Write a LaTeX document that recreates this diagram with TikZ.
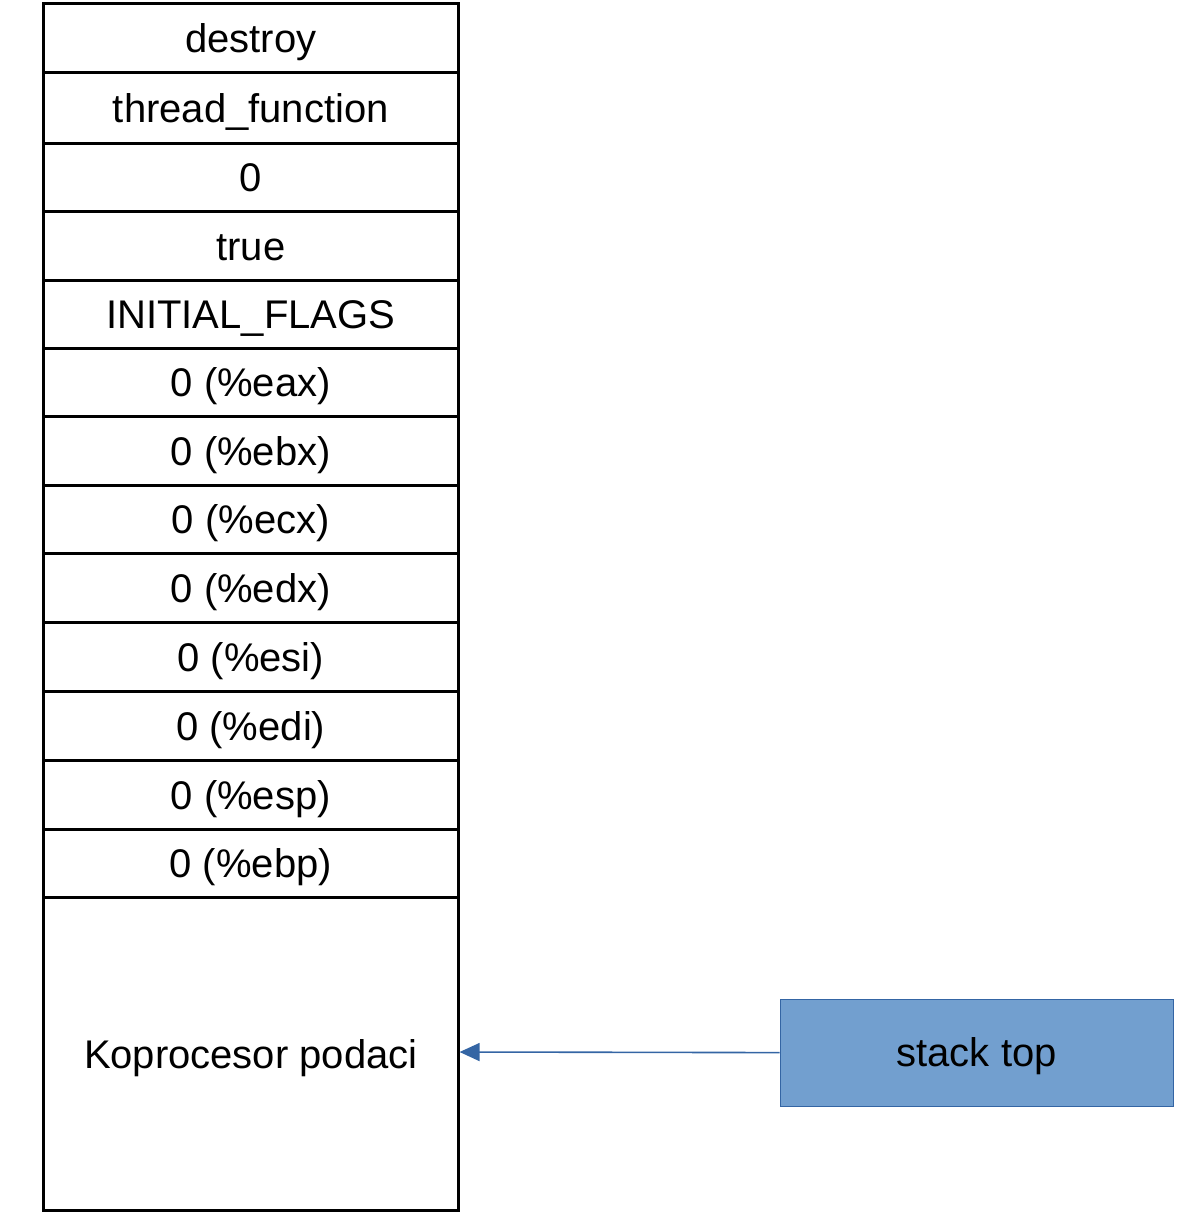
\documentclass[tikz,border=0pt]{standalone}
\usepackage{fontspec}
\setmainfont{Liberation Sans}
\usetikzlibrary{arrows.meta}
\definecolor{stkfill}{HTML}{729FCF}
\definecolor{stkline}{HTML}{3465A4}
\begin{document}
\begin{tikzpicture}[x=1pt,y=-1pt,
  cell/.style={draw=black,line width=2.6pt,minimum width=415pt,anchor=north west,inner sep=0pt,
    text height=28.6pt,text depth=0pt,font=\fontsize{40}{46}\selectfont},
  topbox/.style={draw=stkline,fill=stkfill,line width=1.2pt,minimum width=393pt,minimum height=107pt,anchor=north west,inner sep=0pt,
    text height=28.6pt,text depth=0pt,font=\fontsize{40}{46}\selectfont},
  ptr/.style={draw=stkline,line width=1.6pt,-{Triangle[length=20pt,width=18pt]}}]
\useasboundingbox (0,0) rectangle (1189,1224);
\node[cell,minimum height=69pt] (c1) at (42,2) {destroy};
\node[cell,minimum height=70pt] (c2) at (42,71.5) {thread\_function};
\node[cell,minimum height=68pt] (c3) at (42,142) {0};
\node[cell,minimum height=69pt] (c4) at (42,210) {true};
\node[cell,minimum height=68pt] (c5) at (42,279) {INITIAL\_FLAGS};
\node[cell,minimum height=68pt] (c6) at (42,347) {0 (\%eax)};
\node[cell,minimum height=69pt] (c7) at (42,415) {0 (\%ebx)};
\node[cell,minimum height=68pt] (c8) at (42,484) {0 (\%ecx)};
\node[cell,minimum height=69pt] (c9) at (42,552) {0 (\%edx)};
\node[cell,minimum height=69pt] (c10) at (42,621) {0 (\%esi)};
\node[cell,minimum height=69pt] (c11) at (42,690) {0 (\%edi)};
\node[cell,minimum height=69pt] (c12) at (42,759) {0 (\%esp)};
\node[cell,minimum height=68pt] (c13) at (42,828) {0 (\%ebp)};
\node[cell,minimum height=313pt] (c14) at (42,896) {Koprocesor podaci};
\node[topbox] (st) at (779.5,998.5) {stack top};
\draw[ptr] (st.west) -- (c14.east |- 0,1052);
\end{tikzpicture}
\end{document}
